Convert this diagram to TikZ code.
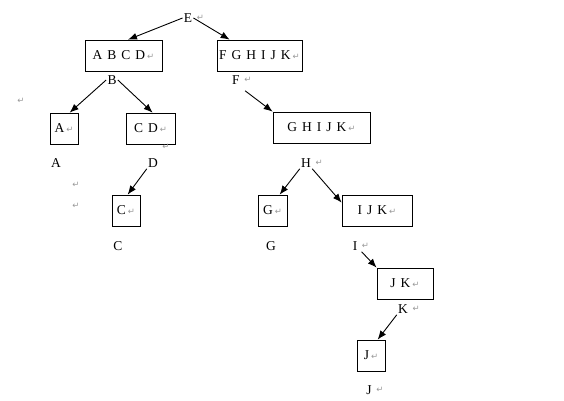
\documentclass[tikz,border=0pt]{standalone}
\usepackage{fontspec}
\setmainfont{Liberation Serif}
\newfontfamily\symfont{DejaVu Sans}
\usetikzlibrary{arrows.meta}
\newcommand{\ret}{{\kern2pt\symfont\color{gray!80}\fontsize{8.5}{8.5}\selectfont ↵}}

\begin{document}
\begin{tikzpicture}[x=1pt, y=-1pt, line width=0.7pt,
    box/.style={draw, rectangle, minimum height=31pt, inner sep=1.5pt,
      font={\fontsize{13.5}{15}\selectfont\spaceskip=5pt\relax}},
    lbl/.style={inner sep=1pt, font=\fontsize{13.5}{15}\selectfont},
    rt/.style={inner sep=1pt},
    arr/.style={-{Latex[length=9pt,width=7pt]}, line width=0.9pt}]
        \useasboundingbox (0,0) rectangle (564,400);

        % boxes
        \node[box, minimum width=77pt] (abcd)  at (123.5, 55.5) {A B C D\ret};
        \node[box, minimum width=85pt] (fk)    at (259.5, 55.5) {F G H I J K\ret};
        \node[box, minimum width=28pt] (a)     at (64,   128.5) {A\ret};
        \node[box, minimum width=49pt] (cd)    at (150.5,128.5) {C D\ret};
        \node[box, minimum width=97pt] (gk)    at (321.5,127.5) {G H I J K\ret};
        \node[box, minimum width=28pt] (c)     at (126,  210.5) {C\ret};
        \node[box, minimum width=29pt] (g)     at (272.5,210.5) {G\ret};
        \node[box, minimum width=70pt] (ijk)   at (377,  210.5) {I J K\ret};
        \node[box, minimum width=56pt] (jk)    at (405,  283.5) {J K\ret};
        \node[box, minimum width=28pt] (j)     at (371,  355.5) {J\ret};

        % split letters
        \node[lbl, label={[rt]right:\ret}] (e) at (188, 18)  {E};
        \node[lbl] (b)                         at (112, 80)  {B};
        \node[lbl, label={[rt]right:\ret}] (f) at (236, 80)  {F};
        \node[lbl] (la)                        at (56,  163) {A};
        \node[lbl] (d)                         at (153, 163) {D};
        \node[lbl, label={[rt]right:\ret}] (h) at (306, 163) {H};
        \node[lbl] (lc)                        at (118, 246) {C};
        \node[lbl] (lg)                        at (271, 246) {G};
        \node[lbl, label={[rt]right:\ret}] (i) at (355, 246) {I};
        \node[lbl, label={[rt]right:\ret}] (k) at (403, 309) {K};
        \node[lbl, label={[rt]right:\ret}] (lj) at (369, 390) {J};

        % stray returns
        \node[rt] (r1) at (20,  101) {\ret};
        \node[rt] (r2) at (165, 147) {\ret};
        \node[rt] (r3) at (75,  185) {\ret};
        \node[rt] (r4) at (75,  206) {\ret};

        \draw[arr] (e.west)       -- ([xshift=4.5pt]abcd.north);
        \draw[arr] (e.east)       -- ([xshift=13pt]fk.north west);
        \draw[arr] (b.west)       -- ([xshift=20pt]a.north west);
        \draw[arr] (b.east)       -- ([xshift=27pt]cd.north west);
        \draw[arr] ([xshift=4pt,yshift=-5pt]f.south east) -- (gk.north west);
        \draw[arr] (d.south west) -- ([xshift=16pt]c.north west);
        \draw[arr] (h.south west) -- ([xshift=22pt]g.north west);
        \draw[arr] (h.south east) -- ([yshift=-8pt]ijk.north west);
        \draw[arr] ([xshift=3pt]i.south east) -- (jk.north west);
        \draw[arr] (k.south west) -- ([xshift=21pt]j.north west);
      \end{tikzpicture}
\end{document}
